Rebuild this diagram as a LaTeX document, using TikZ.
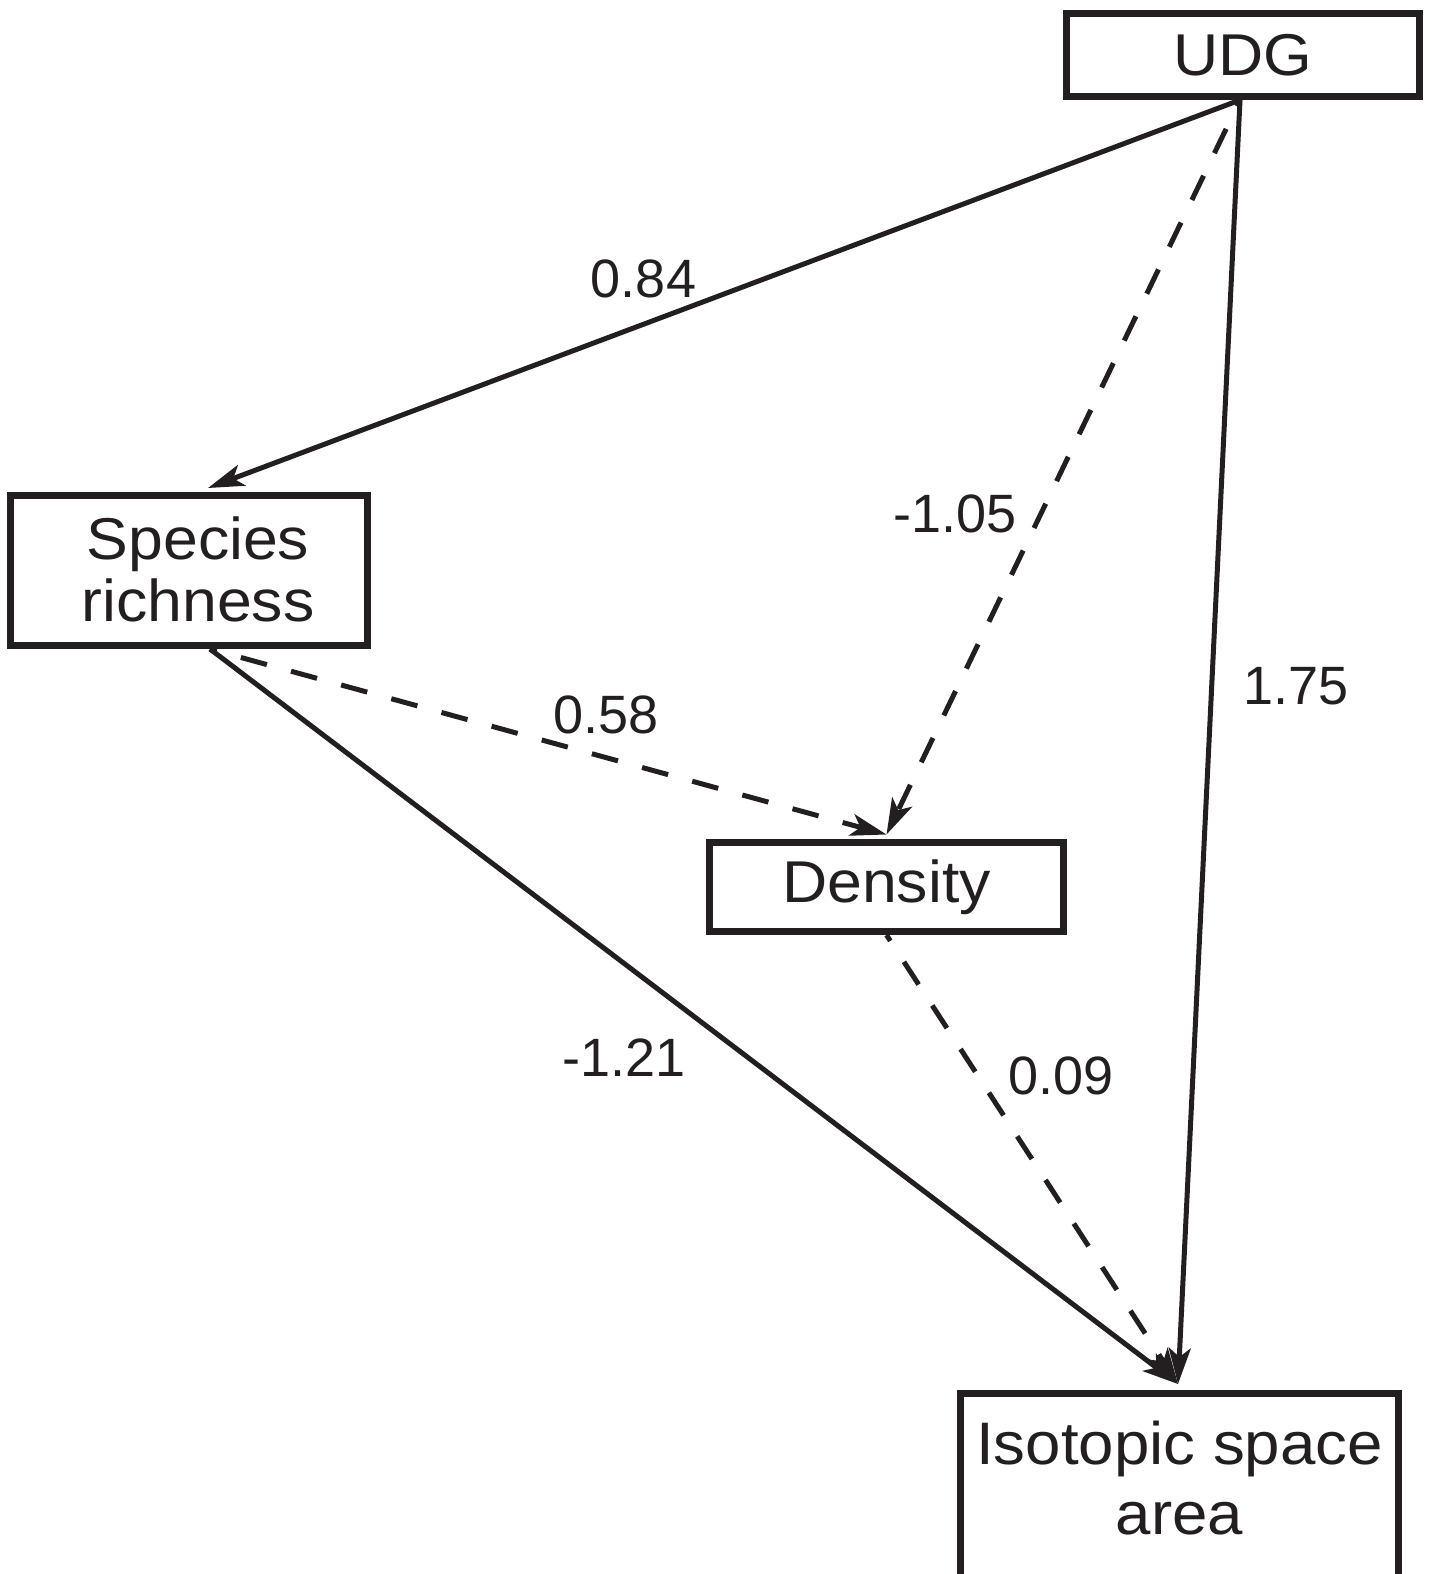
\documentclass[tikz,border=0pt]{standalone}
\usepackage{fontspec}
\setmainfont{Liberation Sans}
\newfontfamily\boxfont{Liberation Sans}[FakeStretch=1.06]
\usetikzlibrary{arrows.meta}
\definecolor{ink}{HTML}{231F20}
\begin{document}
\begin{tikzpicture}[x=1pt,y=-1pt,
  box/.style={draw=ink, line width=7pt, rectangle, inner sep=0pt, text=ink,
    align=center, font=\boxfont\fontsize{59}{62}\selectfont},
  boxtext/.style={text=ink, align=center, inner sep=0pt},
  conn/.style={draw=ink, line width=5pt, -{Stealth[length=36pt,width=22pt,inset=9pt]}},
  dashconn/.style={conn, dash pattern=on 27pt off 25pt, dash phase=20pt},
  lbl/.style={anchor=base, text=ink, inner sep=0pt, font=\fontsize{54}{60}\selectfont}]
\useasboundingbox (0,0) rectangle (1434,1574);

\node[box, minimum width=353pt, minimum height=83pt] (udg) at (1243,55) {UDG};
\node[box, minimum width=357pt, minimum height=150pt] (sp) at (189,570.5) {};
\node[boxtext, font=\boxfont\fontsize{59}{62}\selectfont] (sptext) at (198,569) {Species\\richness};
\node[box, minimum width=354pt, minimum height=89.5pt] (den) at (886.5,886.75) {Density};
\node[box, minimum width=438pt, minimum height=200pt] (iso) at (1179.5,1493.5) {};
\node[boxtext, font=\boxfont\fontsize{60}{70}\selectfont] (isotext) at (1179.5,1478) {Isotopic space\\area};

\coordinate (u0) at ([xshift=-3pt]udg.south);
\coordinate (s0) at ([xshift=21pt]sp.south);
\coordinate (isotop) at ([xshift=-1.5pt,yshift=6pt]iso.north);
\coordinate (dentop) at ([yshift=4pt]den.north);

\draw[conn] (u0) -- ([xshift=19pt,yshift=4pt]sp.north);
\draw[dashconn] (u0) -- (dentop);
\draw[conn] (u0) -- (isotop);
\draw[conn] (s0) -- (isotop);
\draw[dashconn] (s0) -- (dentop);
\draw[dashconn] (den.south) -- (isotop);

\node[lbl] (l1) at (643.5,297) {0.84};
\node[lbl] (l2) at (955,532) {-1.05};
\node[lbl] (l3) at (1296,704) {1.75};
\node[lbl] (l4) at (606,733) {0.58};
\node[lbl] (l5) at (624,1076) {-1.21};
\node[lbl] (l6) at (1061,1094) {0.09};
\end{tikzpicture}
\end{document}
